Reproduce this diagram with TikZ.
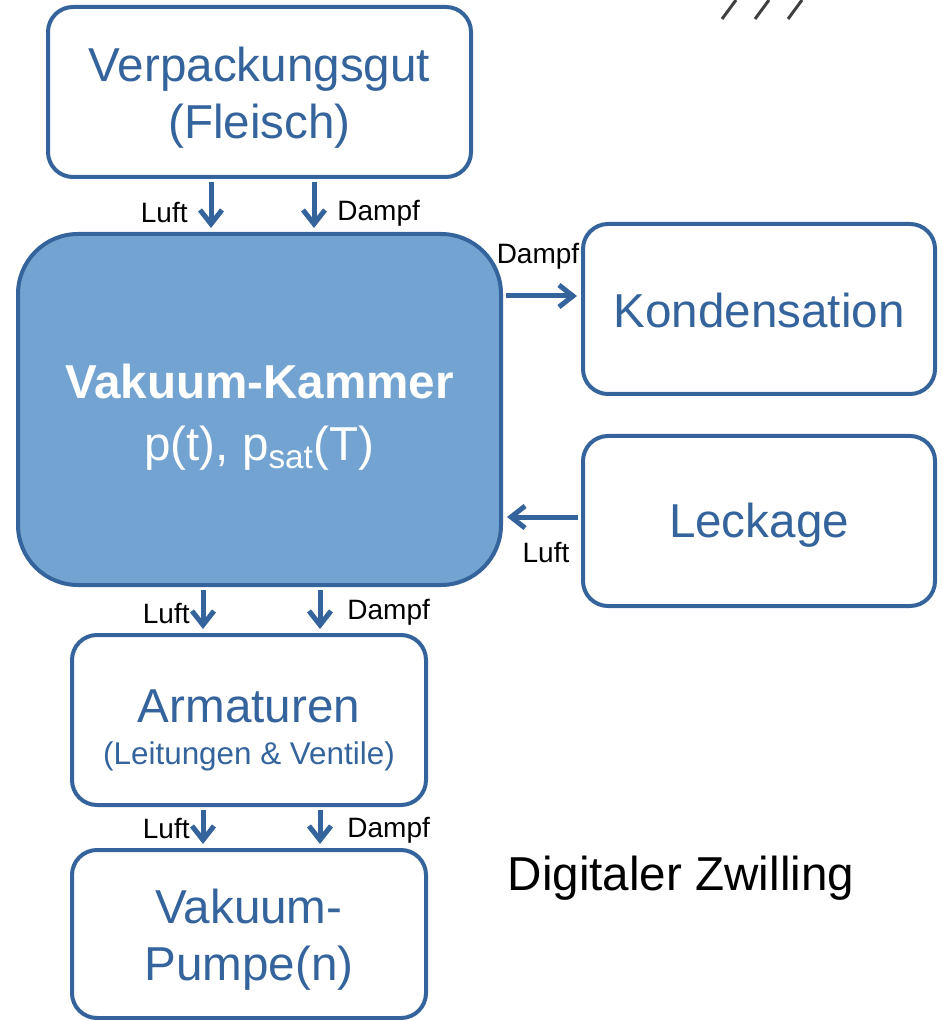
\documentclass[tikz,border=0pt]{standalone}
\usepackage{fontspec}
\setmainfont{Liberation Sans}
\usetikzlibrary{arrows.meta}
\definecolor{boxblue}{RGB}{52,100,155}
\definecolor{kammerfill}{RGB}{115,163,209}
\tikzset{
  box/.style={draw=boxblue, line width=2pt, rounded corners=12.5pt, inner sep=0pt},
  boxtext/.style={text=boxblue, align=center, inner sep=0pt, font=\fontsize{23.8}{28.5}\selectfont},
  flow/.style={draw=boxblue, line width=2.5pt, shorten <=1.5pt, shorten >=2pt,
    -{Straight Barb[length=7pt,width=11pt]}},
  lbl/.style={font=\fontsize{14}{16}\selectfont, inner sep=0pt},
  hatch/.style={line width=1.5pt, gray!50!black}
}
\begin{document}
\begin{tikzpicture}[x=0.5pt,y=-0.5pt]
                \useasboundingbox (0,0) rectangle (941,1020);
                \node[box, minimum width=211.5pt, minimum height=85pt] (gut) at (259.5,92) {};
                \node[box, minimum width=241.5pt, minimum height=175.5pt, rounded corners=30pt, fill=kammerfill] (kammer) at (259.5,409.5) {};
                \node[box, minimum width=176pt, minimum height=85pt] (kond) at (759,309) {};
                \node[box, minimum width=176pt, minimum height=85pt] (leck) at (759,521) {};
                \node[box, minimum width=177pt, minimum height=85pt] (arm) at (249,720) {};
                \node[box, minimum width=177pt, minimum height=84pt] (pumpe) at (249,934) {};
                \node[boxtext] (gut-t) at ([yshift=-3pt]gut.center) {Verpackungsgut\\(Fleisch)};
                \node[boxtext, text=white, font=\fontsize{23.8}{31}\selectfont] (kammer-t) at ([yshift=-4pt]kammer.center)
                  {\bfseries Vakuum-Kammer\\p(t), p\textsubscript{sat}(T)};
                \node[boxtext] (kond-t) at ([yshift=-0.5pt]kond.center) {Kondensation};
                \node[boxtext] (leck-t) at ([yshift=-2pt]leck.center) {Leckage};
                \node[boxtext, font=\fontsize{23.8}{21}\selectfont] (arm-t) at ([yshift=-5pt]arm.center)
                  {Armaturen\\{\fontsize{15.7}{18}\selectfont(Leitungen \& Ventile)}};
                \node[boxtext] (pumpe-t) at ([yshift=-3pt]pumpe.center) {Vakuum-\\Pumpe(n)};
                \draw[flow] (gut.south -| 211,0) -- (kammer.north -| 211,0);
                \draw[flow] (gut.south -| 314,0) -- (kammer.north -| 314,0);
                \node[lbl, anchor=east] (l1) at (188,213) {Luft};
                \node[lbl, anchor=west] (d1) at (337,213) {Dampf};
                \draw[flow] (kammer.east |- 0,296) -- (kond.west |- 0,296);
                \node[lbl] (d2) at (538,256) {Dampf};
                \draw[flow] (leck.west |- 0,517) -- (kammer.east |- 0,517);
                \node[lbl] (l2) at (546,553) {Luft};
                \draw[flow] (kammer.south -| 203,0) -- (arm.north -| 203,0);
                \draw[flow] (kammer.south -| 320,0) -- (arm.north -| 320,0);
                \node[lbl, anchor=east] (l3) at (190,614) {Luft};
                \node[lbl, anchor=west] (d3) at (347,612) {Dampf};
                \draw[flow] (arm.south -| 203,0) -- (pumpe.north -| 203,0);
                \draw[flow] (arm.south -| 320,0) -- (pumpe.north -| 320,0);
                \node[lbl, anchor=east] (l4) at (190,828) {Luft};
                \node[lbl, anchor=west] (d4) at (347,830) {Dampf};
                \node[font=\fontsize{23.8}{28}\selectfont, inner sep=0pt] (zwilling) at (681,878) {Digitaler Zwilling};
                \foreach \i in {0,1,2}
                  \draw[hatch] (722+33*\i,19) -- (736+33*\i,0);
            \end{tikzpicture}
\end{document}
